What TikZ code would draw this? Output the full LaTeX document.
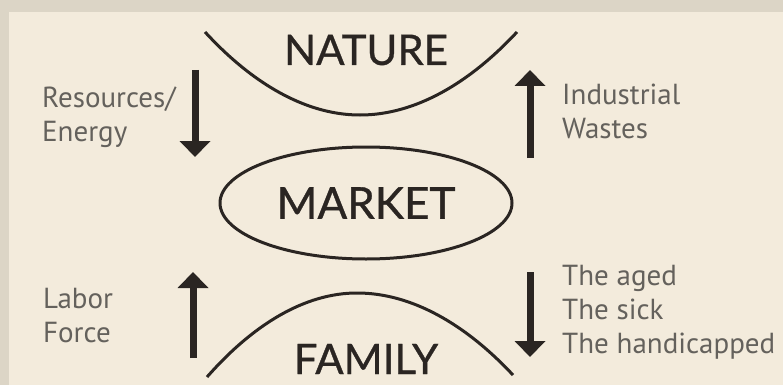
\documentclass[tikz,border=0pt]{standalone}
\usepackage{fontspec}
\setmainfont{PT Sans}
\newfontfamily\wordfont{Lato}[FakeBold=0.8]
\usetikzlibrary{shapes,arrows.meta}
\definecolor{outerbg}{HTML}{DCD5C6}
\definecolor{panel}{HTML}{F3EBDC}
\definecolor{ink}{HTML}{2A2522}
\definecolor{labelgray}{HTML}{64615C}

\begin{document}
\begin{tikzpicture}[x=1pt, y=-1pt, auto]
  \tikzstyle{word} = [font=\wordfont\fontsize{42}{48}\selectfont,
    text=ink, inner sep=0pt]
  \tikzstyle{terminator} = [ellipse, draw=ink, line width=3pt,
    minimum width=292pt, minimum height=112pt, inner sep=0pt,
    font=\wordfont\fontsize{44}{50}\selectfont, text=ink]
  \tikzstyle{caption} = [font=\fontsize{29}{34}\selectfont,
    text=labelgray, align=left, anchor=west, inner sep=0pt]
  \tikzstyle{curve} = [draw=ink, line width=3pt]
  \tikzstyle{line} = [draw=ink, line width=7pt,
    -{Triangle[width=30pt,length=16pt]}]

  % Background
  \fill [outerbg] (0,0) rectangle (783,385);
  \fill [panel] (9,12) rectangle (783,385);
  \useasboundingbox (0,0) rectangle (783,385);

  % Place nodes
  \node [terminator] (market) at (366,203) {MARKET};
  \node [word, above of=market, node distance=153pt] (nature) {NATURE};
  \node [word, below of=market, node distance=156pt] (family) {FAMILY};
  \node [caption] (resources) at (42,117) {Resources/\\Energy};
  \node [caption] (wastes) at (562,111) {Industrial\\Wastes};
  \node [caption] (labor) at (43,316) {Labor\\Force};
  \node [caption] (care) at (562,312) {The aged\\The sick\\The handicapped};

  % Arrow ends
  \coordinate (res top) at (195,70);
  \coordinate (res tip) at (195,157);
  \coordinate (waste foot) at (530,158);
  \coordinate (waste tip) at (530,70);
  \coordinate (labor foot) at (193,358);
  \coordinate (labor tip) at (193,272);
  \coordinate (care top) at (530,272);
  \coordinate (care tip) at (530,357);

  % Draw curves
  \path [curve] (205,32) parabola bend (360,115) (517,32);
  \path [curve] (207,377) parabola bend (357,293) (513,375);

  % Draw edges
  \path [line] (res top) -- (res tip);
  \path [line] (waste foot) -- (waste tip);
  \path [line] (labor foot) -- (labor tip);
  \path [line] (care top) -- (care tip);
\end{tikzpicture}
\end{document}
